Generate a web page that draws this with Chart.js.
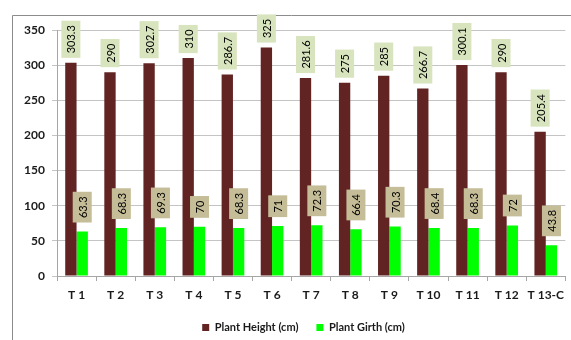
<!DOCTYPE html>
<html>
<head>
<meta charset="utf-8">
<script src="https://cdn.jsdelivr.net/npm/chart.js@4.4.0/dist/chart.umd.min.js"></script>
<style>
  html, body { margin: 0; padding: 0; background: #fff; }
  #wrap { width: 571px; height: 340px; position: relative; }
</style>
</head>
<body>
<div id="wrap"><canvas id="chart"></canvas></div>
<script>
const categories = ["T 1", "T 2", "T 3", "T 4", "T 5", "T 6", "T 7", "T 8", "T 9", "T 10", "T 11", "T 12", "T 13-C"];
const plantHeight = [303.3, 290, 302.7, 310, 286.7, 325, 281.6, 275, 285, 266.7, 300.1, 290, 205.4];
const plantGirth = [63.3, 68.3, 69.3, 70, 68.3, 71, 72.3, 66.4, 70.3, 68.4, 68.3, 72, 43.8];
const labelFills = ["#d7e4bd", "#c4bd97"];

// frame lines round the chart (top + left visible in the crop)
const framePlugin = {
  id: "frame",
  afterLayout(chart) {
    // legend sits a bit right of centre in the original
    if (chart.legend) chart.legend.left = 36;
  },
  beforeDraw(chart) {
    const ctx = chart.ctx;
    ctx.save();
    ctx.fillStyle = "#fff";
    ctx.fillRect(0, 0, chart.width, chart.height);
    ctx.strokeStyle = "#8c8c8c";
    ctx.lineWidth = 1;
    ctx.beginPath();
    ctx.moveTo(12.5, chart.height);
    ctx.lineTo(12.5, 15.5);
    ctx.lineTo(chart.width, 15.5);
    ctx.stroke();
    ctx.restore();
  }
};

// rotated value labels in little boxes above each bar
const valueLabels = {
  id: "valueLabels",
  afterDatasetsDraw(chart) {
    const ctx = chart.ctx;
    ctx.save();
    ctx.font = "11px Lato";
    ctx.textAlign = "center";
    ctx.textBaseline = "middle";
    chart.data.datasets.forEach((ds, i) => {
      const meta = chart.getDatasetMeta(i);
      const gap = i === 0 ? 5 : 9;
      meta.data.forEach((bar, j) => {
        const txt = String(ds.data[j]);
        const len = ctx.measureText(txt).width + 9;
        const w = 19;
        ctx.save();
        ctx.translate(bar.x, bar.y - gap - len / 2);
        ctx.rotate(-Math.PI / 2);
        ctx.fillStyle = labelFills[i];
        ctx.fillRect(-len / 2, -w / 2, len, w);
        ctx.fillStyle = "#000";
        ctx.fillText(txt, 0, 1);
        ctx.restore();
      });
    });
    ctx.restore();
  }
};

new Chart(document.getElementById("chart"), {
  type: "bar",
  data: {
    labels: categories,
    datasets: [
      { label: "Plant Height (cm)", data: plantHeight, backgroundColor: "#622423", categoryPercentage: 0.58, barPercentage: 1 },
      { label: "Plant Girth (cm)", data: plantGirth, backgroundColor: "#00ff00", categoryPercentage: 0.58, barPercentage: 1 }
    ]
  },
  options: {
    responsive: true,
    maintainAspectRatio: false,
    animation: false,
    layout: { padding: { left: 0, right: 0, top: 30, bottom: -3 } },
    plugins: {
      tooltip: { enabled: false },
      legend: {
        position: "bottom",
        labels: {
          boxWidth: 7, boxHeight: 7, padding: 18,
          color: "#1a1a1a",
          font: { family: "Lato", size: 11, weight: "bold" }
        }
      }
    },
    scales: {
      x: {
        grid: { drawOnChartArea: false, tickLength: 5, color: "#a6a6a6", offset: true },
        border: { color: "#a6a6a6" },
        ticks: { color: "#1a1a1a", padding: 7, font: { family: "Lato", size: 12, weight: "bold" }, maxRotation: 0, autoSkip: false },
        afterFit(scale) { scale.height = 28; }
      },
      y: {
        min: 0, max: 350,
        ticks: { stepSize: 50, color: "#1a1a1a", padding: 7, font: { family: "Lato", size: 12, weight: "bold" } },
        grid: { color: "#c4c4c4", tickLength: 5 },
        border: { color: "#a6a6a6" },
        afterFit(scale) { scale.width = 57; }
      }
    }
  },
  plugins: [framePlugin, valueLabels]
});
</script>
</body>
</html>
